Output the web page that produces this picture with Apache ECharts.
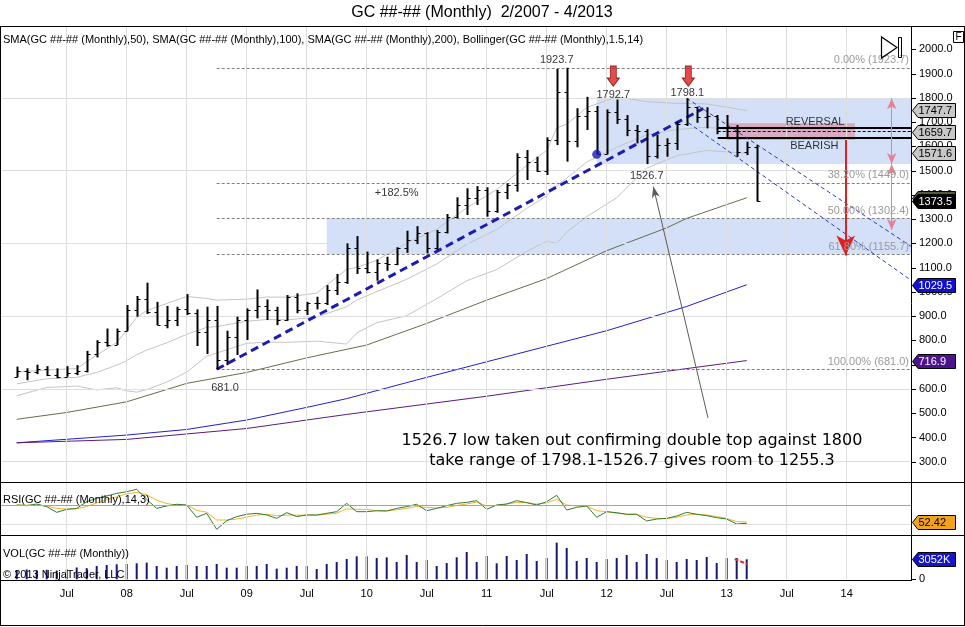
<!DOCTYPE html>
<html><head><meta charset="utf-8">
<script src="https://cdn.jsdelivr.net/npm/echarts@6/dist/echarts.min.js"></script>
<style>html,body{margin:0;padding:0;background:#fff}#c{width:965px;height:627px}</style>
</head><body><div id="c"></div>
<script>
// ---------- DATA ----------
const firstBarIndex = 1; // months since Jan 2007 (Feb 2007)
const O = [651,672,669,681,659,651,667,673,743,795,783,840,924,972,917,865,886,928,914,833,884,718,816,884,927,942,924,884,980,926,954,955,1008,1040,1182,1097,1083,1118,1113,1179,1213,1244,1181,1248,1307,1357,1386,1421,1333,1411,1439,1556,1536,1500,1628,1825,1620,1725,1746,1570,1740,1711,1669,1664,1562,1604,1615,1691,1762,1719,1726,1676,1663,1578,1596];
const H = [692,685,700,694,685,694,698,757,801,849,849,946,983,1038,959,942,939,991,928,939,942,840,898,932,1010,969,939,987,994,959,980,1028,1074,1200,1230,1166,1134,1145,1184,1252,1271,1246,1255,1321,1390,1427,1436,1431,1420,1447,1571,1585,1557,1637,1919,1923.7,1757,1804,1766,1752,1792.7,1729,1688,1671,1647,1633,1701,1798.1,1763,1761,1729,1729,1688,1619,1606];
const L = [648,636,661,653,644,650,657,668,730,774,781,838,898,909,863,850,859,905,777,744,681,698,740,802,891,884,863,881,912,905,928,946,987,1033,1074,1076,1046,1087,1110,1161,1197,1159,1173,1241,1303,1317,1358,1310,1326,1382,1413,1461,1495,1482,1605,1537,1596,1667,1567,1567,1692,1642,1612,1526.7,1550,1557,1585,1684,1697,1674,1650,1633,1557,1564,1372];
const C = [672,669,681,659,651,667,673,743,795,783,838,924,972,917,865,886,928,914,833,884,718,816,884,927,942,924,884,980,926,954,955,1008,1040,1182,1097,1083,1118,1113,1179,1213,1244,1181,1248,1307,1357,1386,1421,1333,1411,1439,1556,1536,1500,1628,1825,1620,1725,1746,1570,1740,1711,1669,1664,1562,1604,1615,1691,1762,1719,1726,1676,1663,1578,1596,1373.5];

const sma50X = [1,6,12,18,24,30,36,42,48,54,60,66,68,74];
const sma50Y = [475,503,547,623,668,728,781,870,966,1055,1170,1264,1303,1388];
const sma100X = [1,12,18,24,30,34,41,51,60,68,74];
const sma100Y = [378,410,433,472,524,560,637,744,840,940,1029.5];
const sma200X = [1,12,24,34,48,60,74];
const sma200Y = [378,392,437,495,570,640,716.9];

const bbX =     [1,4,7,9,11,12,13,14,16,18,20,21,24,26,28,31,34,35,37,40,43,46,49,52,54,55,56,58,61,64,67,70,74];
const bbUpper = [670,678,684,740,791,842,895,923,952,981,973,966,970,979,978,995,1093,1101,1130,1202,1258,1346,1422,1521,1583,1676,1691,1760,1804,1784,1777,1775,1747.7];
const bbMid =   [621,642,648,668,698,717,741,760,790,825,854,857,879,886,885,896,939,966,1001,1052,1115,1196,1257,1344,1396,1438,1469,1535,1596,1647,1669,1679,1659.7];
const bbLower = [572,606,612,596,605,592,587,597,628,669,735,748,788,793,792,797,785,831,873,902,972,1046,1092,1167,1209,1200,1247,1310,1388,1510,1561,1583,1571.6];

const rsiFirst = 1;
const rsi = [70.0,69.3,71.0,68.3,62.4,65.5,66.5,73.4,76.9,79.3,82.0,83.7,86.2,75.8,66.5,69.0,70.7,70.0,57.3,61.4,44.9,53.8,58.0,60.4,61.4,59.7,56.2,62.1,58.0,59.7,59.7,61.4,63.1,71.7,63.1,63.1,64.1,63.8,66.5,68.3,70.7,64.1,66.5,69.3,71.7,72.7,74.5,65.5,70.0,71.0,74.5,72.4,70.0,73.4,80.0,64.8,67.6,69.0,57.3,63.1,62.1,60.4,60.4,53.5,55.5,56.2,58.6,62.4,60.4,59.0,56.9,55.5,50.4,51.1];
const rsiAvg = [70.0,69.8,69.7,69.0,66.5,65.8,66.0,68.5,72.0,75.5,78.5,81.5,83.0,80.5,75.0,71.5,70.0,70.0,64.5,62.5,54.5,54.5,55.5,57.5,59.5,60.5,59.0,59.5,59.5,59.5,59.5,60.5,61.5,66.0,65.5,65.5,64.0,64.0,65.0,66.5,68.5,67.5,67.0,67.5,69.5,71.0,73.0,69.0,69.5,71.0,72.5,72.4,71.0,72.0,75.9,70.0,69.0,69.0,64.1,63.1,61.4,60.4,60.4,57.3,56.2,55.9,57.3,59.7,60.4,59.7,58.0,56.2,52.8,52.42];
const volK = [1400,1500,1300,1450,1350,1500,1800,1700,2030,2182,2284,2335,2437,2538,2030,1775,2030,2182,2030,2030,2335,1775,1775,2030,2030,2335,1623,1775,2030,2030,1572,2335,2640,3098,3505,3505,3251,3352,2640,3708,2640,2945,2030,2488,3352,4166,2640,3556,2437,3556,2945,3861,2793,3251,5591,4777,2793,3251,2640,3098,3251,3708,2640,3861,3251,2945,2640,3098,2945,3403,2488,3251,3251,3052];

const xTickVals = [6,12,18,24,30,36,42,48,54,60,66,72,78,84];
const priceGridLines = [300,600,900,1200,1500,1800];
const priceTicks = [300,400,500,600,700,800,900,1000,1100,1200,1300,1400,1500,1600,1700,1800,1900,2000];

// Fibonacci
const fibStartX = 21;
const fibPct = ['0.00%','38.20%','50.00%','61.80%','100.00%'];
const fibVal = [1923.7,1449.0,1302.4,1155.7,681.0];

// annotations
const annoText = ['1923.7','1792.7','1798.1','1526.7','681.0','+182.5%','REVERSAL','BEARISH'];
const annoX = [55,60.66,68.06,64,21.83,39,80.83,80.76];
const annoY = [1955.7,1811.4,1818.5,1478.8,602.5,1406.3,1701.4,1601.2];
const arrowX = [60.66,68.16];
const arrowY = [1889,1889];
const dotX = 59, dotY = 1567;

// tags on the right
const tagVals = [1747.7,1659.7,1571.6,1388.0,1373.5,1029.5,716.9];
const tagTxt = ['1747.7','1659.7','1571.6','1388.0','1373.5','1029.5','716.9'];
const tagBg = ['#c8c8c8','#c8c8c8','#c8c8c8','#4f5f2f','#000000','#1010d0','#4b148c'];
const tagFg = ['#000','#000','#000','#fff','#fff','#fff','#fff'];

const XMIN = -0.67, XMAX = 90.53;
const FONT = 'Liberation Sans, Arial, sans-serif';

// ---------- CHART ----------
const chart = echarts.init(document.getElementById('c'));
const ohlc = O.map((o,k)=>[firstBarIndex+k, o, H[k], L[k], C[k]]);
const pts = (xs,ys)=>xs.map((x,k)=>[x,ys[k]]);

function dummy(g, extra){
  return Object.assign({type:'line', xAxisIndex:g, yAxisIndex:g, data:[[-50,-5000]], showSymbol:false,
    lineStyle:{opacity:0}, silent:true, animation:false}, extra);
}
function ml(data, lineStyle, extra){
  return Object.assign({silent:true, animation:false, symbol:['none','none'], label:{show:false}, lineStyle:lineStyle, data:data}, extra||{});
}

const xAxes = [0,1,2].map(g=>({
  type:'value', gridIndex:g, min:XMIN, max:XMAX,
  axisLine:{show:false}, axisTick:{show:false}, splitLine:{show:false},
  axisLabel: g===2 ? {show:true, customValues:xTickVals, margin:9, color:'#000', fontSize:11, fontFamily:FONT,
    formatter:v=> (v%12===0 ? String(7+v/12).padStart(2,'0') : 'Jul')} : {show:false}
}));

const option = {
  animation:false,
  textStyle:{fontFamily:FONT},
  grid:[
    {left:0, right:53, top:25, height:461},
    {left:0, right:53, top:482.7, height:53.3},
    {left:0, right:53, top:536, height:43.3}
  ],
  xAxis:xAxes,
  yAxis:[
    {type:'value', gridIndex:0, position:'right', min:200, max:2100, interval:100,
      axisLine:{show:false}, axisTick:{show:false}, splitLine:{show:false},
      axisLabel:{margin:7, color:'#000', fontSize:11, fontFamily:FONT, showMinLabel:false, showMaxLabel:false,
        formatter:v=>v.toFixed(1)}},
    {type:'value', gridIndex:1, position:'right', min:38, max:93, show:false},
    {type:'value', gridIndex:2, position:'right', min:0, max:6600, interval:6600,
      axisLine:{show:false}, axisTick:{show:false}, splitLine:{show:false},
      axisLabel:{margin:7, color:'#000', fontSize:11, fontFamily:FONT, formatter:v=>v===0?'0':''}}
  ],
  series:[
    dummy(0,{z:1, markLine: ml(
      xTickVals.map(v=>[{coord:[v,2091]},{coord:[v,214]}]).concat(priceGridLines.map(v=>({yAxis:v}))),
      {color:'#dedede', width:1, type:'solid'})}),
    dummy(1,{z:1, markLine: ml(xTickVals.map(v=>({xAxis:v})).concat([{yAxis:50}]), {color:'#dedede', width:1, type:'solid'})}),
    dummy(2,{z:1, markLine: ml(xTickVals.map(v=>({xAxis:v})), {color:'#dedede', width:1, type:'solid'})}),
    dummy(0,{z:1, markArea:{silent:true, itemStyle:{color:'rgba(175,198,240,0.55)'}, data:[
      [{coord:[32,1302.4]},{coord:[XMAX,1155.7]}],
      [{coord:[59,1798.1]},{coord:[XMAX,1526.7]}]
    ]}}),
    dummy(0,{z:1, markArea:{silent:true, itemStyle:{color:'rgba(222,125,150,0.55)'}, data:[
      [{coord:[72,1695]},{coord:[84.83,1626]}]
    ]}}),
    {type:'line', xAxisIndex:0, yAxisIndex:0, data:pts(bbX,bbUpper), showSymbol:false, lineStyle:{color:'#c4c4c4', width:1}, z:2},
    {type:'line', xAxisIndex:0, yAxisIndex:0, data:pts(bbX,bbMid), showSymbol:false, lineStyle:{color:'#c4c4c4', width:1}, z:2},
    {type:'line', xAxisIndex:0, yAxisIndex:0, data:pts(bbX,bbLower), showSymbol:false, lineStyle:{color:'#c4c4c4', width:1}, z:2},
    {type:'line', xAxisIndex:0, yAxisIndex:0, data:pts(sma50X,sma50Y), showSymbol:false, lineStyle:{color:'#6b6b4a', width:1}, z:2},
    {type:'line', xAxisIndex:0, yAxisIndex:0, data:pts(sma100X,sma100Y), showSymbol:false, lineStyle:{color:'#2020c8', width:1}, z:2},
    {type:'line', xAxisIndex:0, yAxisIndex:0, data:pts(sma200X,sma200Y), showSymbol:false, lineStyle:{color:'#5a1a80', width:1}, z:2},
    dummy(0,{z:3, markLine: ml(fibVal.map((v,k)=>[{coord:[fibStartX,v], label:{show:true, position:'insideEndTop', distance:[3,2],
        formatter:fibPct[k]+' ('+v.toFixed(1)+')', color:'#9a9a9a', fontSize:11, fontFamily:FONT}},{coord:[XMAX,v]}]),
      {color:'#808080', width:1, type:[3,2]})}),
    dummy(0,{z:3, markLine: ml([
      [{coord:[71.1,1678]},{coord:[XMAX,1678]}],
      [{coord:[71.1,1634]},{coord:[XMAX,1634]}]], {color:'#000', width:2, type:'solid'})}),
    dummy(0,{z:3, markLine: ml([[{coord:[71.1,1663]},{coord:[XMAX,1663]}]], {color:'#000', width:1, type:[3,2]})}),
    dummy(0,{z:4, markLine: ml([[{coord:[21,681]},{coord:[69.66,1756]}]], {color:'#1c1cb4', width:3, type:[8,5]})}),
    dummy(0,{z:4, markLine: ml([
      [{coord:[68,1798.1]},{coord:[XMAX,1185]}],
      [{coord:[68.16,1697]},{coord:[XMAX,1045]}]], {color:'#2a3ac0', width:1, type:[4,3]})}),
    dummy(0,{z:4, markLine: ml([
      [{coord:[88.5,1798.1]},{coord:[88.5,1526.7]}],
      [{coord:[88.5,1526.7]},{coord:[88.5,1255.3]}]], {color:'#e8808e', width:1, type:'solid'},
      {symbol:['arrow','arrow'], symbolSize:[7,11]})}),
    dummy(0,{z:4, markLine: ml([[{coord:[83.9,1626]},{coord:[83.9,1150]}]], {color:'#e02020', width:2, type:'solid'},
      {symbol:['none','arrow'], symbolSize:[14,20]})}),
    dummy(0,{z:4, markLine: ml([[{coord:[70.13,480.8]},{coord:[64.66,1434]}]], {color:'#5a5a5a', width:1, type:'solid'},
      {symbol:['none','arrow'], symbolSize:[6,11]})}),
    {type:'custom', xAxisIndex:0, yAxisIndex:0, data:ohlc, z:5, clip:true,
      renderItem:(params, api)=>{
        const x=api.value(0);
        const pH=api.coord([x,api.value(2)]), pL=api.coord([x,api.value(3)]);
        const pO=api.coord([x,api.value(1)]), pC=api.coord([x,api.value(4)]);
        const xx=Math.round(pH[0])+0.5;
        return {type:'group', children:[
          {type:'line', shape:{x1:xx,y1:pH[1],x2:xx,y2:pL[1]}, style:{stroke:'#000', lineWidth:2}},
          {type:'line', shape:{x1:xx-3,y1:Math.round(pO[1])+0.5,x2:xx,y2:Math.round(pO[1])+0.5}, style:{stroke:'#000', lineWidth:1}},
          {type:'line', shape:{x1:xx,y1:Math.round(pC[1])+0.5,x2:xx+3,y2:Math.round(pC[1])+0.5}, style:{stroke:'#000', lineWidth:1}}
        ]};
      }},
    {type:'scatter', xAxisIndex:0, yAxisIndex:0, z:6, symbolSize:0, silent:true,
      data:annoText.map((t,k)=>({name:t, value:[annoX[k],annoY[k]]})),
      label:{show:true, position:'inside', formatter:'{b}', color:'#000', fontSize:11, fontFamily:FONT}},
    {type:'scatter', xAxisIndex:0, yAxisIndex:0, z:6, silent:true, data:pts(arrowX,arrowY),
      symbol:'path://M3,0 L9,0 L9,12 L12,12 L6,20 L0,12 L3,12 Z', symbolSize:[12,20],
      itemStyle:{color:'#dd1e1e', borderColor:'#7a0000', borderWidth:1}},
    {type:'scatter', xAxisIndex:0, yAxisIndex:0, z:6, silent:true, data:[[dotX,dotY]], symbolSize:9,
      itemStyle:{color:'#1a1ab4'}},
    dummy(1,{z:2, markLine: ml([{yAxis:70}], {color:'#b4b428', width:1, type:'solid'})}),
    {type:'line', xAxisIndex:1, yAxisIndex:1, data:rsiAvg.map((v,k)=>[rsiFirst+k,v]), showSymbol:false, lineStyle:{color:'#f0b429', width:1}, z:3},
    {type:'line', xAxisIndex:1, yAxisIndex:1, data:rsi.map((v,k)=>[rsiFirst+k,v]), showSymbol:false, lineStyle:{color:'#2e7d32', width:1}, z:3},
    {type:'bar', xAxisIndex:2, yAxisIndex:2, data:volK.map((v,k)=>[firstBarIndex+k,v]), barWidth:2, itemStyle:{color:'#191970'}, z:3},
    {type:'line', xAxisIndex:2, yAxisIndex:2, data:[[72.8,3098],[74.1,2290]], showSymbol:false, lineStyle:{color:'#e03030', width:2, type:[4,2]}, z:4}
  ]
};
chart.setOption(option);

// ---------- decorations computed through the chart scales ----------
const g = [];
const line = (x1,y1,x2,y2,w,c)=>g.push({type:'line', silent:true, z:100, shape:{x1,y1,x2,y2}, style:{stroke:c||'#000', lineWidth:w||1}});
const txt = (x,y,t,opt,z)=>g.push({type:'text', silent:true, z:z||100, x, y, style:Object.assign({text:t, fill:'#000', font:'11px '+FONT, textVerticalAlign:'middle'}, opt||{})});

line(0,26.5,965,26.5); line(0.5,26.5,0.5,625.5); line(0,625.5,965,625.5); line(964.5,26.5,964.5,625.5);
line(0,482.5,965,482.5); line(0,535.5,965,535.5); line(0,580.5,912,580.5);
line(911.5,26.5,911.5,580.5);
priceTicks.forEach(v=>{ const y=Math.round(chart.convertToPixel({gridIndex:0},[0,v])[1])+0.5; line(912,y,916,y); });
{ const y=Math.round(chart.convertToPixel({gridIndex:2},[0,0])[1])+0.5; line(912,y,916,y); }

txt(482,13,'GC ##-## (Monthly)  2/2007 - 4/2013',{font:'16px '+FONT, textAlign:'center'});
txt(3,40,'SMA(GC ##-## (Monthly),50), SMA(GC ##-## (Monthly),100), SMA(GC ##-## (Monthly),200), Bollinger(GC ##-## (Monthly),1.5,14)');
txt(3,500,'RSI(GC ##-## (Monthly),14,3)');
txt(3,554,'VOL(GC ##-## (Monthly))');
txt(3,575,'© 2013 NinjaTrader, LLC');
txt(632,440.5,'1526.7 low taken out confirming double top against 1800',{font:'16px DejaVu Sans, Verdana, sans-serif', textAlign:'center'});
txt(632,460.5,'take range of 1798.1-1526.7 gives room to 1255.3',{font:'16px DejaVu Sans, Verdana, sans-serif', textAlign:'center'});

g.push({type:'polygon', silent:true, z:100, shape:{points:[[881.5,37],[881.5,58],[897,47.5]]}, style:{fill:'none', stroke:'#000', lineWidth:1.2}});
g.push({type:'rect', silent:true, z:100, shape:{x:898.5,y:37.5,width:3,height:20}, style:{fill:'none', stroke:'#000', lineWidth:1}});
g.push({type:'rect', silent:true, z:100, shape:{x:953.5,y:31.5,width:10,height:11}, style:{fill:'#fff', stroke:'#000', lineWidth:1}});
txt(958.5,37.5,'F',{font:'10px '+FONT, textAlign:'center'});

let tz = 110;
function tag(y, t, bg, fg, h){
  h = h||14; const x0=912.5, x1=918, x2=955.5;
  y = Math.round(y)+0.5;
  g.push({type:'polygon', silent:true, z:tz, shape:{points:[[x0,y],[x1,y-h/2],[x2,y-h/2],[x2,y+h/2],[x1,y+h/2]]},
    style:{fill:bg, stroke:'#000', lineWidth:1}});
  txt(918.5,y+0.5,t,{fill:fg, font:'11px '+FONT}, tz+1);
  tz += 2;
}
tagVals.forEach((v,k)=>{ const y=chart.convertToPixel({gridIndex:0},[0,v])[1]; tag(y, tagTxt[k], tagBg[k], tagFg[k]); });
tag(chart.convertToPixel({xAxisIndex:1,yAxisIndex:1},[0,rsiAvg[rsiAvg.length-1]])[1], '52.42', '#f2a31e', '#000');
tag(chart.convertToPixel({xAxisIndex:2,yAxisIndex:2},[0,volK[volK.length-1]])[1], '3052K', '#1414c8', '#fff');

chart.setOption({graphic:{elements:g}});
</script>
</body></html>
